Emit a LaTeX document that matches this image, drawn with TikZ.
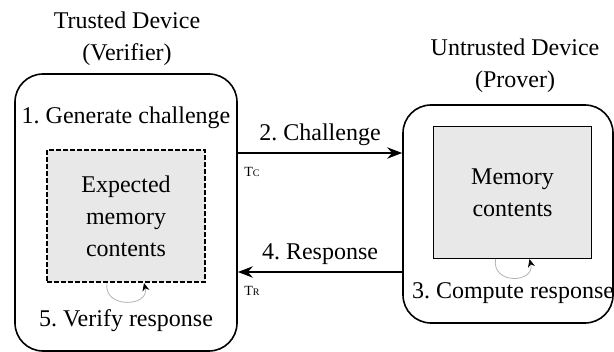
\documentclass[tikz,border=0pt]{standalone}
\usepackage{fontspec}
\setmainfont{Liberation Serif}
\frenchspacing
\usetikzlibrary{arrows.meta,calc}
\begin{document}
\begin{tikzpicture}[x=0.5pt,y=-0.5pt,>=Stealth,font=\fontsize{12}{16}\selectfont]
	\tikzset{device/.style={draw,line width=0.8pt,rounded corners=14pt},
		memory/.style={fill=gray!18,minimum width=79pt,minimum height=66pt,align=center},
		selfarrow/.style={gray!60,line width=0.4pt,-{Stealth[black,length=4pt,width=3.5pt]}},
		tlabel/.style={font=\fontsize{7}{8}\selectfont,inner sep=1pt}}
	\useasboundingbox (0,0) rectangle (614,352);
	% the two devices
	\node[device,minimum width=111pt,minimum height=138.5pt] (verifier) at (126,212.5) {};
	\node[device,minimum width=105pt,minimum height=109pt] (prover) at (508,214) {};
	\node[align=center] (vtitle) at (127,39) {Trusted Device\\(Verifier)};
	\node[align=center] (ptitle) at (515,66) {Untrusted Device\\(Prover)};
	% memories
	\node[memory,draw,line width=1pt,dash pattern=on 2.5pt off 1pt] (expected) at (126,216) {Expected\\memory\\contents};
	\node[memory,draw,line width=0.6pt] (actual) at (512.5,192.5) {Memory\\contents};
	% steps
	\node (gen) at (126,118) {1. Generate challenge};
	\node (verify) at (126,321) {5. Verify response};
	\node (compute) at (513,293) {3. Compute response};
	\draw[selfarrow] ($(expected.south)+(-19,0)$) .. controls +(-4,26) and +(6,24) .. ($(expected.south)+(18,0)$);
	\draw[selfarrow] ($(actual.south)+(-17,0)$) .. controls +(-4,26) and +(6,24) .. ($(actual.south)+(17,0)$);
	% messages
	\coordinate (chal) at (320,153);
	\coordinate (resp) at (320,272);
	\draw[->,line width=1pt] (verifier.east |- chal) -- node[above] (chaltext) {2. Challenge} (prover.west |- chal);
	\draw[->,line width=1pt] (prover.west |- resp) -- node[above] (resptext) {4. Response} (verifier.east |- resp);
	\node[tlabel] (tc) at (252,172) {T\fontsize{5}{6}\selectfont C};
	\node[tlabel] (tr) at (252,291) {T\fontsize{5}{6}\selectfont R};
\end{tikzpicture}
\end{document}
